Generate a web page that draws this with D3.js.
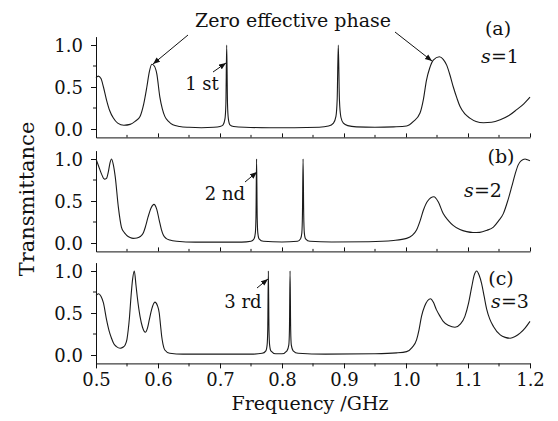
<!DOCTYPE html>
<html><head><meta charset="utf-8">
<script src="https://cdn.jsdelivr.net/npm/d3@7"></script>
<style>body{margin:0;background:#fff}svg{display:block}text{font-family:"DejaVu Serif",serif;fill:#111}</style>
</head><body><svg id="c" width="558" height="421"></svg>
<script>
// ---- data ----
const freqA = [0.500,0.5037,0.508,0.512,0.517,0.522,0.528,0.535,0.545,0.555,0.563,0.571,0.577,0.582,0.586,0.590,0.594,0.598,0.603,0.607,0.611,0.617,0.624,0.635,0.650,0.670,0.690,0.700,0.705,0.708,0.7095,0.7108,0.7121,0.7135,0.716,0.722,0.740,0.780,0.820,0.860,0.875,0.883,0.887,0.889,0.8908,0.8926,0.895,0.899,0.906,0.920,0.950,0.980,1.001,1.012,1.0226,1.028,1.033,1.038,1.044,1.0537,1.060,1.0656,1.071,1.0763,1.082,1.087,1.095,1.103,1.113,1.125,1.138,1.152,1.166,1.1785,1.190,1.200];
const transA = [0.61,0.63,0.60,0.50,0.345,0.22,0.13,0.07,0.045,0.055,0.09,0.15,0.30,0.50,0.68,0.77,0.75,0.66,0.38,0.24,0.15,0.09,0.05,0.03,0.02,0.015,0.02,0.03,0.05,0.12,0.3,1.0,0.3,0.12,0.05,0.03,0.02,0.015,0.015,0.02,0.035,0.07,0.15,0.35,1.0,0.35,0.14,0.07,0.04,0.025,0.02,0.025,0.035,0.09,0.19,0.35,0.58,0.72,0.82,0.86,0.83,0.76,0.64,0.50,0.37,0.27,0.18,0.13,0.09,0.075,0.08,0.11,0.16,0.23,0.30,0.38];

const freqB = [0.500,0.504,0.509,0.5135,0.517,0.520,0.5225,0.525,0.528,0.531,0.536,0.541,0.545,0.549,0.555,0.560,0.566,0.572,0.576,0.580,0.584,0.589,0.5935,0.598,0.602,0.6055,0.6086,0.613,0.619,0.630,0.660,0.700,0.735,0.750,0.755,0.757,0.758,0.759,0.760,0.761,0.763,0.770,0.800,0.825,0.830,0.832,0.833,0.834,0.835,0.836,0.838,0.845,0.880,0.940,0.980,1.001,1.010,1.017,1.023,1.028,1.035,1.045,1.052,1.060,1.068,1.076,1.087,1.0978,1.108,1.119,1.130,1.141,1.149,1.157,1.164,1.1705,1.176,1.181,1.186,1.192,1.196,1.200];
const transB = [1.0,0.92,0.82,0.76,0.77,0.85,0.95,1.0,0.93,0.79,0.43,0.19,0.13,0.095,0.065,0.055,0.06,0.08,0.115,0.2,0.31,0.42,0.46,0.40,0.27,0.16,0.095,0.055,0.035,0.02,0.01,0.01,0.01,0.02,0.05,0.12,0.3,1.0,0.3,0.12,0.05,0.02,0.012,0.02,0.05,0.12,0.35,1.0,0.35,0.12,0.05,0.02,0.012,0.015,0.03,0.055,0.09,0.155,0.27,0.39,0.50,0.55,0.49,0.35,0.27,0.21,0.16,0.135,0.125,0.127,0.15,0.19,0.26,0.35,0.50,0.67,0.82,0.93,0.98,1.0,0.99,0.98];

const freqC = [0.500,0.504,0.508,0.512,0.517,0.521,0.525,0.529,0.533,0.539,0.544,0.547,0.550,0.552,0.554,0.556,0.559,0.5618,0.5645,0.5666,0.571,0.575,0.5795,0.583,0.586,0.590,0.595,0.599,0.602,0.604,0.606,0.608,0.611,0.619,0.640,0.700,0.750,0.768,0.774,0.776,0.777,0.778,0.779,0.780,0.782,0.790,0.800,0.808,0.811,0.812,0.813,0.814,0.815,0.818,0.826,0.870,0.950,0.985,1.001,1.010,1.017,1.021,1.025,1.030,1.0397,1.044,1.049,1.055,1.060,1.069,1.079,1.088,1.095,1.101,1.106,1.110,1.114,1.118,1.122,1.126,1.130,1.135,1.141,1.152,1.160,1.168,1.176,1.184,1.192,1.200];
const transC = [0.71,0.73,0.70,0.62,0.42,0.29,0.20,0.13,0.10,0.08,0.095,0.12,0.19,0.30,0.45,0.65,0.90,1.0,0.83,0.69,0.46,0.33,0.27,0.32,0.42,0.55,0.63,0.59,0.50,0.36,0.22,0.13,0.06,0.02,0.01,0.01,0.01,0.02,0.05,0.12,0.3,1.0,0.3,0.12,0.05,0.015,0.015,0.05,0.12,0.3,1.0,0.3,0.12,0.05,0.02,0.01,0.015,0.025,0.04,0.09,0.18,0.30,0.46,0.58,0.67,0.63,0.54,0.46,0.40,0.35,0.33,0.37,0.46,0.62,0.81,0.95,1.0,0.95,0.85,0.70,0.55,0.43,0.34,0.24,0.21,0.20,0.22,0.26,0.32,0.40];

const xTicks = [0.5,0.6,0.7,0.8,0.9,1.0,1.1,1.2];
const xMinor = [0.55,0.65,0.75,0.85,0.95,1.05,1.15];
const yTicks = [0.0,0.5,1.0];
const yMinor = [0.25,0.75];
const panelLabels = ["(a)","(b)","(c)"];
const sValues = ["1","2","3"];
const orderLabels = ["1 st","2 nd","3 rd"];

// ---- layout ----
const svg = d3.select("#c");
const x = d3.scaleLinear().domain([0.5,1.2]).range([96,530]);
const panels = [
  {f:freqA, t:transA, y0:129, inward:true},
  {f:freqB, t:transB, y0:243, inward:true},
  {f:freqC, t:transC, y0:355, inward:false}
];

svg.append("defs").append("marker").attr("id","ah").attr("viewBox","0 0 10 10")
  .attr("refX",10).attr("refY",5).attr("markerWidth",7).attr("markerHeight",7)
  .attr("orient","auto").attr("markerUnits","userSpaceOnUse")
  .append("path").attr("d","M0,1 L10,5 L0,9 Z").attr("fill","#111");

panels.forEach((p,k)=>{
  const y = d3.scaleLinear().domain([-0.1,1.1]).range([p.y0+8.4, p.y0-92.4]);
  const g = svg.append("g");
  const ya = d3.axisLeft(y).tickValues(yTicks).tickFormat(d3.format(".1f")).tickSize(5).tickSizeOuter(0);
  const yg = g.append("g").attr("transform","translate(96,0)").call(ya);
  yg.selectAll("text").attr("font-size",18).attr("x",-13).attr("dy","0.36em").style("font-family","DejaVu Serif");
  yg.selectAll("line,path").attr("stroke","#111");
  g.append("g").selectAll("line").data(yMinor).join("line")
    .attr("x1",93).attr("x2",96).attr("y1",d=>y(d)).attr("y2",d=>y(d)).attr("stroke","#111");
  const by = y(-0.1);
  const sz = p.inward ? -4 : 5;
  const xa = d3.axisBottom(x).tickValues(xTicks).tickSize(sz).tickSizeOuter(0).tickFormat(p.inward? "" : d3.format(".1f"));
  const xg = g.append("g").attr("transform",`translate(0,${by})`).call(xa);
  xg.selectAll("line,path").attr("stroke","#111");
  xg.selectAll("text").attr("font-size",18).attr("y",10).attr("dy","0.71em").style("font-family","DejaVu Serif");
  g.append("g").selectAll("line").data(xMinor).join("line")
    .attr("x1",d=>x(d)).attr("x2",d=>x(d)).attr("y1",by).attr("y2",by+(p.inward?-2.5:3)).attr("stroke","#111");
  const line = d3.line().x((d,i)=>x(p.f[i])).y(d=>y(d)).curve(d3.curveMonotoneX);
  g.append("path").datum(p.t).attr("d",line).attr("fill","none").attr("stroke","#1a1a1a").attr("stroke-width",1.1);
});

const lab = [{x:498,y:35,sx:500,sy:63},{x:501,y:163,sx:483,sy:197},{x:501,y:285,sx:510,sy:308}];
lab.forEach((l,k)=>{
  svg.append("text").attr("x",l.x).attr("y",l.y).attr("text-anchor","middle").attr("font-size",19).text(panelLabels[k]);
  const t = svg.append("text").attr("x",l.sx).attr("y",l.sy).attr("text-anchor","middle").attr("font-size",19);
  t.append("tspan").attr("font-style","italic").text("s");
  t.append("tspan").text("=" + sValues[k]);
});

const ord = [
  {tx:202, ty:90, x1:213, y1:72, x2:226, y2:63},
  {tx:225, ty:200, x1:245, y1:182, x2:257, y2:172},
  {tx:243, ty:308, x1:257, y1:288, x2:268, y2:279}
];
ord.forEach((o,k)=>{
  svg.append("text").attr("x",o.tx).attr("y",o.ty).attr("text-anchor","middle").attr("font-size",18).text(orderLabels[k]);
  svg.append("line").attr("x1",o.x1).attr("y1",o.y1).attr("x2",o.x2).attr("y2",o.y2)
    .attr("stroke","#111").attr("stroke-width",1).attr("marker-end","url(#ah)");
});

svg.append("text").attr("x",293).attr("y",27).attr("text-anchor","middle").attr("font-size",19).text("Zero effective phase");
svg.append("line").attr("x1",188).attr("y1",35).attr("x2",153).attr("y2",64).attr("stroke","#111").attr("marker-end","url(#ah)");
svg.append("line").attr("x1",395).attr("y1",32).attr("x2",432).attr("y2",61).attr("stroke","#111").attr("marker-end","url(#ah)");

svg.append("text").attr("transform","translate(34,199) rotate(-90)").attr("text-anchor","middle").attr("font-size",21).text("Transmittance");
svg.append("text").attr("x",310).attr("y",410).attr("text-anchor","middle").attr("font-size",19).text("Frequency /GHz");
</script></body></html>
